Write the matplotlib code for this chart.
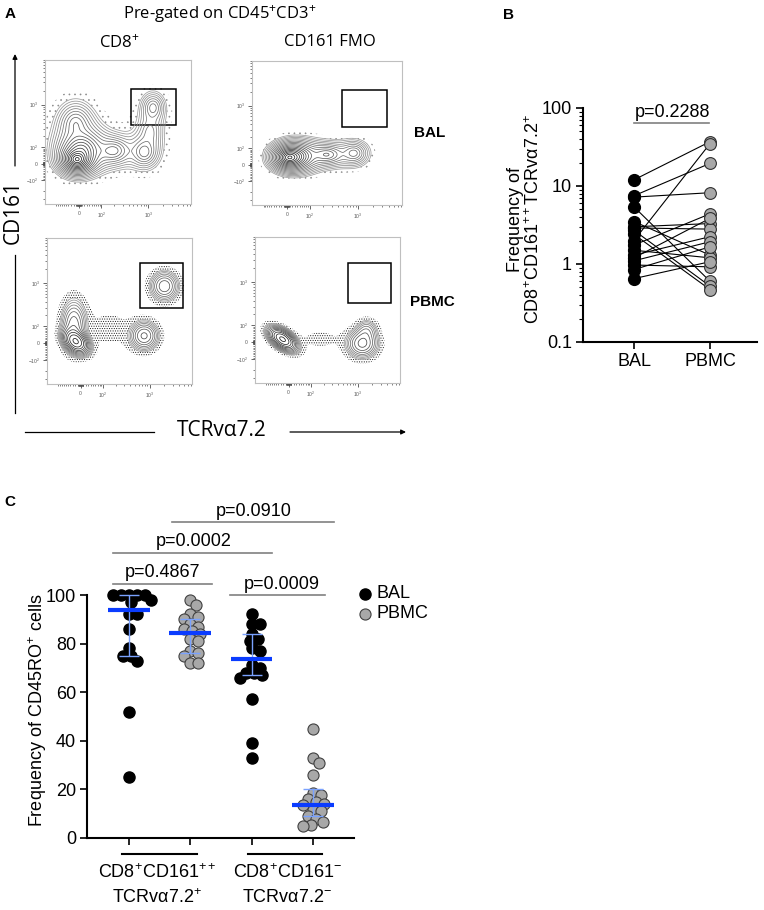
import numpy as np
import matplotlib.pyplot as plt

plt.rcParams['font.family'] = ['Liberation Sans', 'DejaVu Sans']
plt.rcParams['mathtext.fontset'] = 'custom'
plt.rcParams['mathtext.rm'] = 'Liberation Sans'
plt.rcParams['mathtext.it'] = 'Liberation Sans:italic'
plt.rcParams['mathtext.bf'] = 'Liberation Sans:bold'
plt.rcParams['hatch.linewidth'] = 0.45

# ---- panel A: populations
# each row: centre x, centre y (axes fraction), spread x, spread y, tilt (deg), weight
bal_cd8 = [(0.22, 0.31, 0.03, 0.025, 0, 1.0),
           (0.25, 0.38, 0.055, 0.05, 0, 0.25),
           (0.21, 0.56, 0.05, 0.06, 0, 0.08),
           (0.47, 0.37, 0.05, 0.04, 0, 0.10),
           (0.68, 0.36, 0.04, 0.045, 0, 0.08),
           (0.72, 0.50, 0.04, 0.06, 0, 0.04),
           (0.74, 0.67, 0.035, 0.045, 0, 0.06)]
bal_fmo = [(0.25, 0.33, 0.03, 0.022, 0, 1.0),
           (0.30, 0.34, 0.05, 0.035, 0, 0.25),
           (0.50, 0.35, 0.05, 0.03, 0, 0.12),
           (0.68, 0.36, 0.04, 0.035, 0, 0.08)]
pbmc_cd8 = [(0.20, 0.29, 0.05, 0.035, -40, 1.0),
            (0.185, 0.40, 0.045, 0.09, 0, 0.25),
            (0.67, 0.33, 0.05, 0.05, 0, 0.30),
            (0.81, 0.67, 0.05, 0.052, 0, 0.26),
            (0.43, 0.38, 0.15, 0.12, 0, 0.009)]
pbmc_fmo = [(0.19, 0.30, 0.055, 0.03, -35, 1.0),
            (0.74, 0.27, 0.055, 0.05, 0, 0.28),
            (0.77, 0.36, 0.04, 0.04, 0, 0.10),
            (0.45, 0.30, 0.13, 0.06, 0, 0.008)]
# gate boxes: x0, x1, y0, y1 (axes fraction)
gate_bal_cd8 = (0.59, 0.90, 0.55, 0.80)
gate_bal_fmo = (0.60, 0.90, 0.54, 0.80)
gate_pbmc_cd8 = (0.64, 0.94, 0.52, 0.83)
gate_pbmc_fmo = (0.64, 0.94, 0.55, 0.82)

# ---- panel B: paired frequencies (%)
b_bal = [12, 7.5, 7.2, 5.4, 3.5, 3.0, 2.9, 2.7, 2.4, 2.0, 1.75, 1.5, 1.3, 1.2, 1.1, 0.97, 0.85, 0.65]
b_pbmc = [37, 19.5, 8.2, 0.6, 1.3, 3.3, 2.8, 0.52, 0.47, 35, 4.4, 1.2, 2.24, 3.85, 1.93, 0.92, 1.66, 1.07]
b_p = 'p=0.2288'

# ---- panel C: CD45RO+ frequency (%)
c_bal_mait = [100, 100, 100, 100, 100, 98, 97, 92, 92, 86, 78, 75, 75, 73, 52, 25]
c_pbmc_mait = [98, 96, 92, 91, 90, 88, 87, 86, 85, 84, 82, 81, 77, 76, 75, 72, 72]
c_bal_conv = [92, 88, 88, 84, 82, 81, 78, 77, 71, 70, 68, 68, 67, 66, 57, 39, 33]
c_pbmc_conv = [45, 33, 31, 26, 18.5, 17.5, 16, 15, 14, 13.5, 11.5, 11, 9, 8, 6.5, 5.5, 5]
c_median = [94, 84.5, 73.5, 13.5]
c_q1 = [75, 76, 67, 9]
c_q3 = [100, 90, 84, 20]
c_pvals = ['p=0.4867', 'p=0.0002', 'p=0.0910', 'p=0.0009']

W, H = 764, 910
fig = plt.figure(figsize=(W / 100, H / 100), dpi=100)


def box(x0, y0, x1, y1):
    return [x0 / W, 1 - y1 / H, (x1 - x0) / W, (y1 - y0) / H]


def density(pops, gauss):
    g = np.linspace(0, 1, 320)
    X, Y = np.meshgrid(g, g)
    Z = np.zeros_like(X)
    for cx, cy, sx, sy, ang, w in pops:
        t = np.deg2rad(ang)
        dx, dy = X - cx, Y - cy
        u = dx * np.cos(t) + dy * np.sin(t)
        v = -dx * np.sin(t) + dy * np.cos(t)
        r2 = (u / sx) ** 2 + (v / sy) ** 2
        if gauss:
            Z += w * np.exp(-r2 / 2)
        else:
            Z += w * np.exp(1 - np.sqrt(1 + r2))
    return X, Y, Z / Z.max()


def biex(v, c, k, w):
    return c + k * np.arcsinh(np.asarray(v, float) / (2 * w)) / np.log(10)


def flow_axes(rect, pops, gate, gauss, nlev, lo, band, hatch, hcol):
    ax = fig.add_axes(box(*rect))
    X, Y, Z = density(pops, gauss)
    levels = np.geomspace(lo, 0.92, nlev)
    greys = [str(g) for g in np.linspace(0.62, 0.1, nlev)]
    with plt.rc_context({'hatch.color': hcol}):
        ax.contourf(X, Y, Z, levels=[band, lo], colors='none', hatches=[hatch])
    ax.contour(X, Y, Z, levels=levels, colors=greys, linewidths=0.55)
    x0, x1, y0, y1 = gate
    ax.add_patch(plt.Rectangle((x0, y0), x1 - x0, y1 - y0, fill=False, ec='black', lw=1.1))
    ax.set_xlim(0, 1)
    ax.set_ylim(0, 1)
    for s in ax.spines.values():
        s.set_color('0.75')
        s.set_linewidth(0.8)
    minor = [m * d for d in (1, 10, 100, 1000) for m in range(1, 10)]
    minor = minor + [-m for m in minor]
    for axis, (c, k, w), lab in ((ax.xaxis, (0.232, 0.34, 40), ['0', '$10^2$', '$10^3$']),
                                 (ax.yaxis, (0.28, 0.325, 55), ['$-10^2$', '0', '$10^2$', '$10^3$'])):
        major = [0, 100, 1000] if len(lab) == 3 else [-100, 0, 100, 1000]
        mp = biex(minor, c, k, w)
        axis.set_ticks(biex(major, c, k, w), lab)
        axis.set_ticks(mp[(mp > 0) & (mp < 1)], minor=True)
    ax.tick_params(which='major', length=3, width=0.6, color='0.3', labelsize=3.6,
                   labelcolor='0.35', pad=2)
    ax.tick_params(which='minor', length=1.5, width=0.5, color='0.3')
    return ax


flow_axes((45, 60, 191, 204), bal_cd8, gate_bal_cd8, False, 18, 0.01, 0.004, '...', '0.55')
flow_axes((252, 61, 402, 205), bal_fmo, gate_bal_fmo, False, 18, 0.01, 0.005, '...', '0.55')
flow_axes((47, 238, 192, 384), pbmc_cd8, gate_pbmc_cd8, True, 12, 0.025, 0.006, '.......', '0.1')
flow_axes((255, 237, 400, 383), pbmc_fmo, gate_pbmc_fmo, True, 12, 0.025, 0.006, '.......', '0.1')

# ---- panel B
axb = fig.add_axes(box(583, 108, 757, 342))
for a, b in zip(b_bal, b_pbmc):
    axb.plot([0, 1], [a, b], color='black', lw=0.8, zorder=2)
axb.scatter(np.zeros(len(b_bal)), b_bal, s=72, color='black', zorder=3)
axb.scatter(np.ones(len(b_pbmc)), b_pbmc, s=72, facecolor='#a8a8a8', edgecolor='#303030',
            lw=0.8, zorder=3)
axb.set_yscale('log')
axb.set_ylim(0.1, 100)
axb.set_xlim(-0.671, 1.618)
axb.set_yticks([0.1, 1, 10, 100], ['0.1', '1', '10', '100'])
axb.set_xticks([0, 1], ['BAL', 'PBMC'])
axb.spines[['top', 'right']].set_visible(False)
axb.spines[['left', 'bottom']].set_linewidth(1.5)
axb.tick_params(which='major', length=5, width=1.2, labelsize=13, pad=3)
axb.tick_params(which='minor', length=3, width=0.8)
axb.plot([0, 0.98], [64, 64], color='#808080', lw=1.2, clip_on=False)
axb.text(0.51, 76, b_p, ha='center', va='baseline', fontsize=13)

# ---- panel C
axc = fig.add_axes(box(87, 595, 354, 838))
px_x, px_y = 61.3, 2.43   # pixels per data unit


def swarm(vals, d=7.5):
    placed = []
    offs = []
    for v in vals:
        best = None
        for step in range(0, 40):
            for sgn in ((0,) if step == 0 else (1, -1)):
                o = sgn * step * 1.0
                if all((o - po) ** 2 + ((v - pv) * px_y) ** 2 >= d * d for po, pv in placed):
                    best = o
                    break
            if best is not None:
                break
        placed.append((best, v))
        offs.append(best / px_x)
    return np.array(offs)


groups = [c_bal_mait, c_pbmc_mait, c_bal_conv, c_pbmc_conv]
for i, vals in enumerate(groups):
    off = swarm(vals)
    if i % 2 == 0:
        axc.scatter(i + off, vals, s=64, color='black', zorder=3, clip_on=False)
    else:
        axc.scatter(i + off, vals, s=64, facecolor='#a8a8a8', edgecolor='#404040', lw=0.8,
                    zorder=3, clip_on=False)
xs = np.arange(4)
med = np.array(c_median)
axc.errorbar(xs, med, yerr=[med - np.array(c_q1), np.array(c_q3) - med], fmt='none',
             ecolor='#7aa2ff', elinewidth=1.0, capsize=7, capthick=1.0, zorder=4, clip_on=False)
axc.hlines(med, xs - 0.34, xs + 0.34, color='#0a3cff', lw=3, zorder=5)
axc.set_ylim(0, 100)
axc.set_xlim(-0.685, 3.67)
axc.set_yticks(range(0, 101, 20))
axc.set_xticks(xs, [''] * 4)
axc.spines[['top', 'right']].set_visible(False)
axc.spines[['left', 'bottom']].set_linewidth(1.5)
axc.tick_params(length=5, width=1.2, labelsize=13, pad=3)

brackets = [(-0.26, 1.35, 104.5, 0.55, 107.5),
            (-0.26, 2.33, 117.3, 1.06, 120.2),
            (0.70, 3.34, 130.0, 2.04, 132.5),
            (1.65, 3.20, 100.0, 2.49, 102.6)]
for (x0, x1, y, tx, ty), p in zip(brackets, c_pvals):
    axc.plot([x0, x1], [y, y], color='#808080', lw=1.2, clip_on=False)
    axc.text(tx, ty, p, ha='center', va='baseline', fontsize=13)
for x0, x1 in ((-0.11, 1.11), (1.94, 3.15)):
    axc.plot([x0, x1], [-6.6, -6.6], color='black', lw=1.5, clip_on=False)

# ---- overlay for labels, arrows and legend (pixel coordinates)
ov = fig.add_axes([0, 0, 1, 1])
ov.set_xlim(0, W)
ov.set_ylim(H, 0)
ov.axis('off')
asans = ['Open Sans', 'DejaVu Sans']
ov.text(10, 14, 'A', fontsize=11, fontweight='bold', ha='center', va='center')
ov.text(508, 15, 'B', fontsize=11, fontweight='bold', ha='center', va='center')
ov.text(10, 502, 'C', fontsize=11, fontweight='bold', ha='center', va='center')
ov.text(220, 14, 'Pre-gated on CD45$^{+}$CD3$^{+}$', family=asans, fontsize=12, ha='center', va='center')
ov.text(119, 42, 'CD8$^{+}$', family=asans, fontsize=12, ha='center', va='center')
ov.text(330, 42, 'CD161 FMO', family=asans, fontsize=12, ha='center', va='center')
ov.text(414, 133, 'BAL', fontsize=11, fontweight='bold', ha='left', va='center')
ov.text(410, 302, 'PBMC', fontsize=11, fontweight='bold', ha='left', va='center')
ov.text(13, 212, 'CD161', family=asans, fontsize=15, rotation=90, ha='center', va='center')
ov.text(222, 430, 'TCRvα7.2', family=asans, fontsize=15, ha='center', va='center')
ov.plot([15, 15], [413, 255], color='black', lw=0.9)
ov.annotate('', xy=(15, 54), xytext=(15, 166),
            arrowprops=dict(arrowstyle='-|>', lw=0.9, color='black', mutation_scale=7,
                            shrinkA=0, shrinkB=0))
ov.plot([25, 154], [432, 432], color='black', lw=0.9)
ov.annotate('', xy=(406, 432), xytext=(290, 432),
            arrowprops=dict(arrowstyle='-|>', lw=0.9, color='black', mutation_scale=7,
                            shrinkA=0, shrinkB=0))

ov.text(525, 219, 'Frequency of\nCD8$^{+}$CD161$^{++}$TCRvα7.2$^{+}$', fontsize=13,
        rotation=90, ha='center', va='center', multialignment='center', linespacing=1.0)
ov.text(38, 710, 'Frequency of CD45RO$^{+}$ cells', fontsize=13, rotation=90,
        ha='center', va='center')
ov.text(157, 873, 'CD8$^{+}$CD161$^{++}$', fontsize=13, ha='center', va='center')
ov.text(157, 898, 'TCRvα7.2$^{+}$', fontsize=13, ha='center', va='center')
ov.text(287, 873, 'CD8$^{+}$CD161$^{-}$', fontsize=13, ha='center', va='center')
ov.text(287, 898, 'TCRvα7.2$^{-}$', fontsize=13, ha='center', va='center')
ov.scatter([365], [594], s=64, color='black')
ov.scatter([365], [614], s=64, facecolor='#a8a8a8', edgecolor='#404040', lw=0.8)
ov.text(377, 594, 'BAL', fontsize=13, ha='left', va='center')
ov.text(377, 614, 'PBMC', fontsize=13, ha='left', va='center')

fig.savefig('out.png', dpi=100)
